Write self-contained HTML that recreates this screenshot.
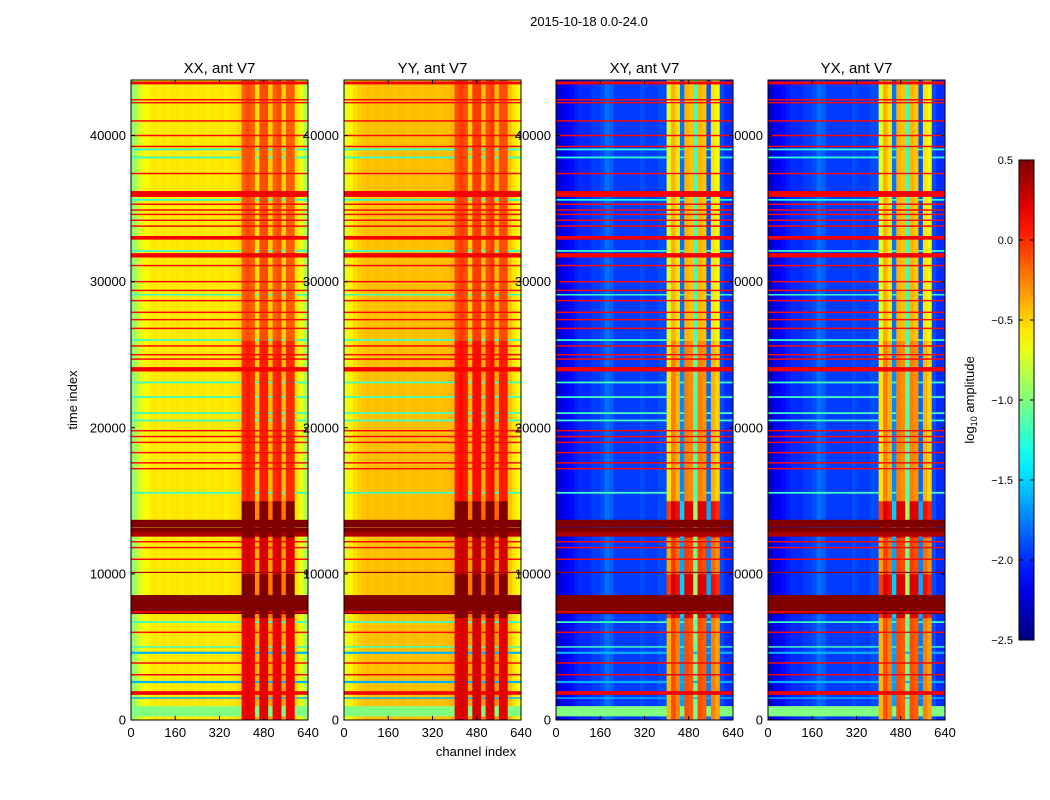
<!DOCTYPE html>
<html><head><meta charset="utf-8">
<style>
html,body{margin:0;padding:0;background:#fff;}
svg{display:block;font-family:"Liberation Sans",sans-serif;}
</style></head>
<body>
<svg id="chart" width="1050" height="800" xmlns="http://www.w3.org/2000/svg">
<rect width="1050" height="800" fill="#fff"/>
<text x="589" y="26" font-size="13" text-anchor="middle">2015-10-18 0.0-24.0</text>
<g id="layer"></g>
<text transform="translate(77,400) rotate(-90)" font-size="13" text-anchor="middle">time index</text>
<text x="476" y="756" font-size="13" text-anchor="middle">channel index</text>
</svg>
<script>
// ---- data ----
const panelTitles = ["XX, ant V7","YY, ant V7","XY, ant V7","YX, ant V7"];
const xTicks = [0,160,320,480,640];
const yTicks = [0,10000,20000,30000,40000];
const cbTicks = [0.5,0.0,-0.5,-1.0,-1.5,-2.0,-2.5];
// channel profile, 40 bins of 16 channels (log10 amplitude)
const profXX = [-0.95,-0.8,-0.7,-0.62,-0.58,-0.55,-0.58,-0.55,-0.58,-0.55,-0.55,-0.58,-0.55,-0.55,-0.58,-0.55,-0.55,-0.58,-0.55,-0.56,-0.55,-0.58,-0.55,-0.55,-0.5,-0.2,-0.15,-0.2,-0.55,-0.15,-0.15,-0.5,-0.2,-0.15,-0.5,-0.2,-0.2,-0.55,-0.7,-0.85];
const profYY = [-0.7,-0.6,-0.52,-0.48,-0.45,-0.43,-0.45,-0.43,-0.45,-0.43,-0.43,-0.45,-0.43,-0.43,-0.45,-0.43,-0.43,-0.45,-0.43,-0.43,-0.43,-0.45,-0.43,-0.43,-0.4,-0.15,-0.1,-0.15,-0.5,-0.1,-0.1,-0.45,-0.15,-0.1,-0.45,-0.15,-0.15,-0.45,-0.55,-0.65];
const profXY = [-2.25,-2.2,-2.15,-2.1,-2.05,-2.0,-2.0,-2.0,-1.95,-1.95,-1.9,-1.8,-1.85,-1.95,-1.95,-1.95,-1.95,-1.95,-1.95,-1.9,-1.95,-1.95,-1.95,-1.9,-1.9,-0.75,-0.45,-0.6,-1.8,-0.45,-0.5,-1.2,-0.45,-0.5,-1.9,-0.6,-0.7,-1.9,-2.0,-2.0];
const profYX = [-2.3,-2.2,-2.15,-2.1,-2.05,-2.0,-2.0,-2.0,-1.95,-1.95,-1.9,-1.8,-1.85,-1.95,-1.95,-1.95,-1.95,-1.95,-1.95,-1.9,-1.95,-1.95,-1.95,-1.9,-1.9,-0.75,-0.45,-0.6,-1.8,-0.45,-0.5,-1.2,-0.45,-0.5,-1.9,-0.6,-0.7,-1.9,-2.0,-2.0];
// time bands that boost the hot channel region: [start, end, boost]
const bandStart = [0,7000,10000,12500,15000,26000];
const bandEnd   = [7000,10000,12500,15000,26000,44000];
const bandBoost = [0.35,0.7,0.4,0.7,0.2,0.05];
// horizontal row events: time, duration, value
const evTime = [43600,42450,42250,41000,40000,39250,39050,38500,37400,36000,35600,35300,34900,34600,34200,33800,33000,32100,31800,31100,30000,29400,29100,28700,27900,27400,26800,26000,25600,25000,24700,24000,23100,22100,21000,20500,19800,19400,19000,18300,17600,17200,15550,13450,13000,12700,12200,11800,11000,10100,7900,7400,6700,6000,5000,4600,3900,3100,2600,1850,1500,600];
const evDur  = [200,100,100,100,100,100,120,120,100,400,120,100,100,100,100,100,250,120,300,100,100,100,100,100,100,100,100,120,100,100,100,300,120,120,120,120,100,100,100,100,100,100,120,500,350,300,100,100,100,80,1300,100,120,100,100,150,100,100,150,250,100,700];
const evVal  = [0.15,0.1,0.1,0.1,0.1,0.1,-1.25,-1.25,0.1,0.15,-1.25,0.1,0.1,0.1,0.1,0.1,0.15,-1.2,0.15,0.1,0.1,0.1,-1.2,0.1,0.1,0.1,0.1,-1.2,0.1,0.1,0.1,0.15,-1.2,-1.2,-1.2,-1.2,0.1,0.1,0.1,0.1,0.1,0.1,-1.2,0.5,0.5,0.35,0.1,0.1,0.1,0.4,0.5,0.1,-1.2,0.1,-1.2,-1.6,0.1,0.15,-1.6,0.15,-1.6,-1.0];

// ---- geometry ----
const panelX = [131,344,556,768];
const PW = 177, TOP = 80, BOT = 720, TMAX = 43800;
const profs = [profXX,profYY,profXY,profYX];
const hotBins = [25,26,27,29,30,32,33,35,36];
const gapBins = [28,31,34];
function xS(c){return c/640*PW;}
function yS(t){return BOT-(t/TMAX)*(BOT-TOP);}
function jet(v){
  let f=(v+2.5)/3; f=Math.max(0,Math.min(1,f));
  const r=Math.max(0,Math.min(1,1.5-Math.abs(4*f-3)));
  const g=Math.max(0,Math.min(1,1.5-Math.abs(4*f-2)));
  const b=Math.max(0,Math.min(1,1.5-Math.abs(4*f-1)));
  return `rgb(${Math.round(r*255)},${Math.round(g*255)},${Math.round(b*255)})`;
}
const NS="http://www.w3.org/2000/svg";
const layer=document.getElementById('layer');
function mk(tag,attrs,parent){const e=document.createElementNS(NS,tag);for(const k in attrs)e.setAttribute(k,attrs[k]);(parent||layer).appendChild(e);return e;}

function cellVal(p,b,t){
  let v=profs[p][b];
  const hot=hotBins.includes(b), gap=gapBins.includes(b);
  for(let i=0;i<bandStart.length;i++){
    if(t>=bandStart[i]&&t<bandEnd[i]){ if(hot) v+=bandBoost[i]; else if(gap) v+=bandBoost[i]*0.4; }
  }
  return v;
}

function drawLabels(p){
  const g=mk('g',{});
  
  
  yTicks.forEach(t=>{
    const tx=mk('text',{x:panelX[p]-5,y:yS(t)+4.5,'font-size':13,'text-anchor':'end'},g);
    
    
    tx.textContent=t;
  });
}
function drawPanel(p){
  const g=mk('g',{transform:`translate(${panelX[p]},0)`});
  
  
  for(let b=0;b<40;b++){
    for(let i=0;i<bandStart.length;i++){
      const t0=bandStart[i], t1=Math.min(bandEnd[i],TMAX);
      const r=mk('rect',{x:xS(b*16),y:yS(t1),width:xS(16)+0.4,height:yS(t0)-yS(t1)+0.4,fill:jet(cellVal(p,b,(t0+t1)/2))},g);
      
      
    }
  }
  evTime.forEach((t,i)=>{
    const h=Math.max(1,(BOT-TOP)*evDur[i]/TMAX);
    for(let b=0;b<40;b++){
      const base=cellVal(p,b,t);
      const hot=hotBins.includes(b);
      let v=hot?Math.max(base,evVal[i]):evVal[i];
      const r=mk('rect',{x:xS(b*16),y:yS(t+evDur[i]/2),width:xS(16)+0.4,height:h,fill:jet(v)},g);
      
      
    }
  });
  mk('rect',{x:0,y:TOP,width:PW,height:BOT-TOP,fill:'none',stroke:'#000','stroke-width':1},g);
  xTicks.forEach(c=>{
    mk('line',{x1:xS(c),x2:xS(c),y1:BOT,y2:BOT-4,stroke:'#000'},g);
    mk('line',{x1:xS(c),x2:xS(c),y1:TOP,y2:TOP+4,stroke:'#000'},g);
    const tx=mk('text',{x:xS(c),y:BOT+17,'font-size':13,'text-anchor':'middle'},g);
    
    
    tx.textContent=c;
  });
  yTicks.forEach(t=>{
    mk('line',{x1:0,x2:4,y1:yS(t),y2:yS(t),stroke:'#000'},g);
    mk('line',{x1:PW,x2:PW-4,y1:yS(t),y2:yS(t),stroke:'#000'},g);
  });
  const tt=mk('text',{x:PW/2,y:73,'font-size':15,'text-anchor':'middle'},g);
  
  
  tt.textContent=panelTitles[p];
}
drawPanel(0); drawLabels(0);
drawLabels(1); drawPanel(1);
drawLabels(2); drawLabels(3); drawPanel(2); drawPanel(3);

// colorbar
const cb=mk('g',{});


const defs=mk('defs',{},cb);
const lg=mk('linearGradient',{id:'jetg',x1:0,y1:1,x2:0,y2:0},defs);
for(let i=0;i<=20;i++){mk('stop',{offset:i/20,'stop-color':jet(-2.5+3*i/20)},lg);}
mk('rect',{x:1019,y:160,width:15,height:480,fill:'url(#jetg)',stroke:'#000'},cb);
cbTicks.forEach(v=>{
  const y=160+(0.5-v)/3*480;
  mk('line',{x1:1019,x2:1023,y1:y,y2:y,stroke:'#000'},cb);
  mk('line',{x1:1034,x2:1030,y1:y,y2:y,stroke:'#000'},cb);
  const tx=mk('text',{x:1013,y:y+4,'font-size':11,'text-anchor':'end'},cb);
  
  
  tx.textContent=(v<0?'\u2212':'')+Math.abs(v).toFixed(1);
});
const cl=mk('text',{transform:'translate(974,400) rotate(-90)','font-size':13,'text-anchor':'middle'},cb);


cl.innerHTML='log<tspan font-size="9" dy="3">10</tspan><tspan dy="-3"> amplitude</tspan>';
</script>
</body></html>
